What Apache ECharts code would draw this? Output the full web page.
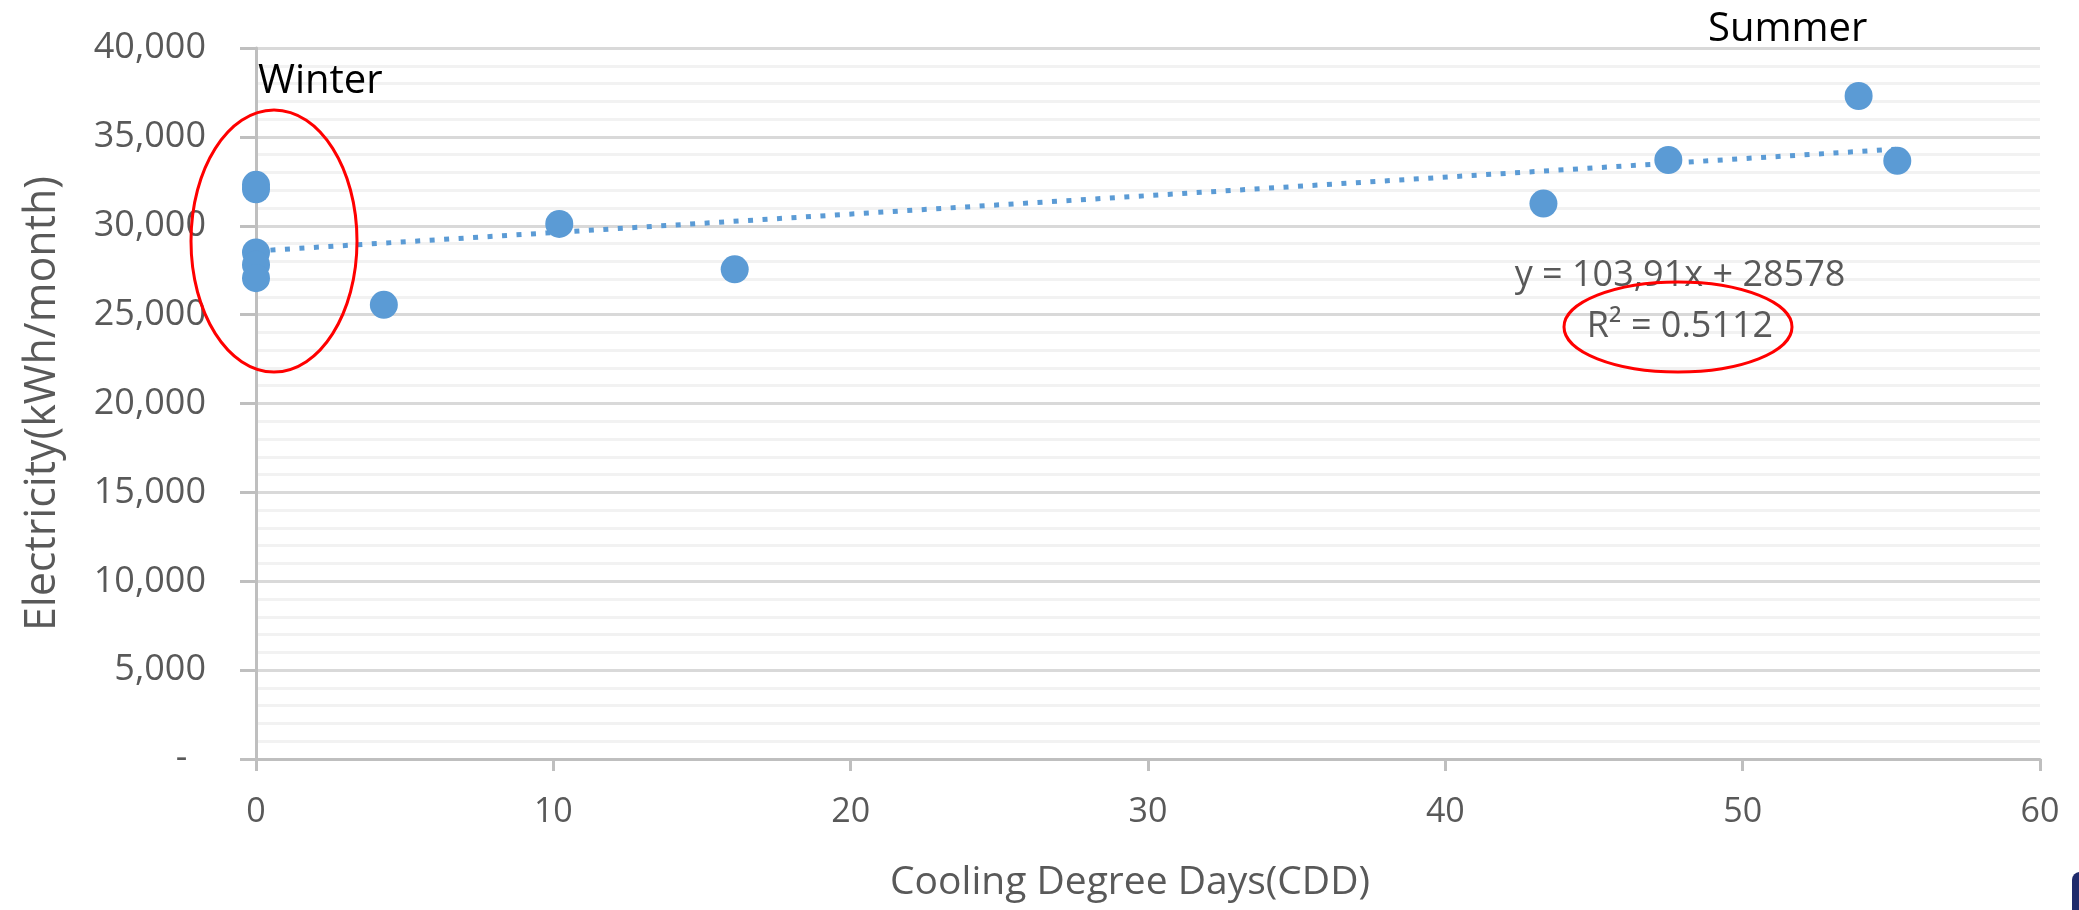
<!DOCTYPE html>
<html lang="en">
<head>
	<meta charset="UTF-8">
	<title>CDD vs Electricity</title>
	<style>
		html,body{
			margin: 0;
			padding: 0;
			background: #fff;
		}
		#main{
			width: 2079px;
			height: 910px;
		}
	</style>
	<script src="https://cdn.jsdelivr.net/npm/echarts@6/dist/echarts.min.js"></script>
</head>
<body>
	<div id="main"></div>
	<script>
		// data
		var cdd = [0, 0, 0, 0, 0, 4.3, 10.2, 16.1, 43.3, 47.5, 53.9, 55.2];
		var electricity = [32300, 32050, 28500, 27800, 27050, 25550, 30100, 27550, 31250, 33700, 37300, 33650];
		// trendline as printed on the chart
		var slope = 103.91;
		var intercept = 28578;
		var eqText = 'y = 103,91x + 28578';
		var r2Text = 'R\u00b2 = 0.5112';

		var points = cdd.map(function(x, i){ return [x, electricity[i]]; });
		var xMax = Math.max.apply(null, cdd);
		var trend = [[0, intercept], [xMax, intercept + slope * xMax]];

		var blue = '#5b9bd5';
		var grey = '#595959';
		var font = '"Open Sans", "Noto Sans", sans-serif';

		var myChart = echarts.init(document.getElementById('main'));

		var option = {
			backgroundColor: '#fff',
			animation: false,
			grid: {
				left: 256,
				right: 39,
				top: 48,
				bottom: 151
			},
			xAxis: {
				type: 'value',
				min: 0,
				max: 60,
				interval: 10,
				name: 'Cooling Degree Days(CDD)',
				nameLocation: 'middle',
				nameGap: 104,
				nameTextStyle: { color: grey, fontSize: 39, fontFamily: font, padding: [0, 36, 0, 0] },
				axisLine: { show: true, lineStyle: { color: '#bfbfbf', width: 3 } },
				axisTick: { show: true, length: 12, lineStyle: { color: '#bfbfbf', width: 3 } },
				axisLabel: { color: grey, fontSize: 34, fontFamily: font, margin: 36 },
				splitLine: { show: false }
			},
			yAxis: {
				type: 'value',
				min: 0,
				max: 40000,
				interval: 5000,
				name: 'Electricity(kWh/month)',
				nameLocation: 'middle',
				nameGap: 192,
				nameTextStyle: { color: grey, fontSize: 43, fontFamily: font },
				axisLine: { show: true, lineStyle: { color: '#bfbfbf', width: 3 } },
				axisTick: { show: true, length: 16, lineStyle: { color: '#bfbfbf', width: 3 } },
				axisLabel: {
					color: grey,
					fontSize: 36,
					fontFamily: font,
					margin: 50,
					formatter: function(v){
						return v === 0 ? '-  ' : v.toLocaleString('en-US');
					}
				},
				splitLine: { show: true, lineStyle: { color: '#d9d9d9', width: 3 } },
				minorTick: { show: false, splitNumber: 5 },
				minorSplitLine: { show: true, lineStyle: { color: '#f2f2f2', width: 3 } }
			},
			series: [
				{
					name: 'trend',
					type: 'line',
					data: trend,
					symbol: 'none',
					z: 2,
					lineStyle: { color: blue, width: 5, type: [5, 9.5], cap: 'butt' }
				},
				{
					name: 'Electricity',
					type: 'scatter',
					data: points,
					symbolSize: 28,
					z: 3,
					itemStyle: { color: blue, opacity: 1 }
				}
			],
			// notes and circles drawn on top of the chart
			graphic: [
				{
					type: 'text', left: 258, top: 62, z: 100,
					style: { text: 'Winter', fill: '#000', fontSize: 40, fontFamily: font }
				},
				{
					type: 'text', left: 1708, top: 10, z: 100,
					style: { text: 'Summer', fill: '#000', fontSize: 40, fontFamily: font }
				},
				{
					type: 'text', x: 1680, y: 276, z: 100,
					style: { text: eqText, fill: grey, fontSize: 36, fontFamily: font, align: 'center', verticalAlign: 'middle' }
				},
				{
					type: 'text', x: 1680, y: 327, z: 100,
					style: { text: r2Text, fill: grey, fontSize: 36, fontFamily: font, align: 'center', verticalAlign: 'middle' }
				},
				{
					type: 'ellipse', z: 100,
					shape: { cx: 274, cy: 241, rx: 83, ry: 131 },
					style: { fill: 'none', stroke: '#ff0000', lineWidth: 3 }
				},
				{
					type: 'ellipse', z: 100,
					shape: { cx: 1678, cy: 327, rx: 114, ry: 45 },
					style: { fill: 'none', stroke: '#ff0000', lineWidth: 3 }
				},
				{
					type: 'rect', z: 100,
					shape: { x: 2072, y: 872, width: 24, height: 60, r: 8 },
					style: { fill: '#1f2a6b' }
				}
			]
		};

		myChart.setOption(option);
	</script>
</body>
</html>
